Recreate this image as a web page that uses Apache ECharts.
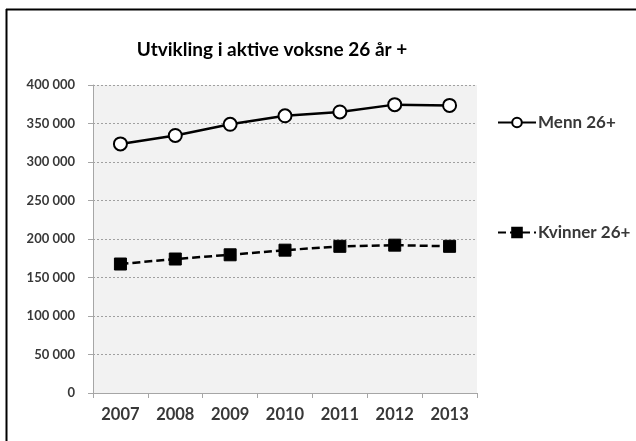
<!DOCTYPE html>
<html>
<head>
<meta charset="utf-8">
<script src="https://cdn.jsdelivr.net/npm/echarts@6/dist/echarts.min.js"></script>
<style>html,body{margin:0;padding:0;background:#fff}#c{width:636px;height:441px}</style>
</head>
<body>
<div id="c"></div>
<script>
const categories = ['2007','2008','2009','2010','2011','2012','2013'];
const menn = [323500, 334500, 349000, 360000, 365000, 374500, 373500];
const kvinner = [167500, 174000, 179500, 185500, 190500, 192000, 190500];
const yTicks = [0, 50000, 100000, 150000, 200000, 250000, 300000, 350000, 400000];
const titleText = 'Utvikling i aktive voksne 26 år +';
const FONT = 'Lato';

const chart = echarts.init(document.getElementById('c'), null, {renderer: 'canvas'});
chart.setOption({
  backgroundColor: '#fff',
  animation: false,
  title: {
    text: titleText, left: 267, top: 35, textAlign: 'center',
    textStyle: {fontFamily: FONT, fontWeight: 'bold', fontSize: 19, color: '#000'}
  },
  graphic: [
    {type: 'line', shape: {x1: 6, y1: 9.5, x2: 636, y2: 9.5}, style: {stroke: '#000', lineWidth: 2}},
    {type: 'line', shape: {x1: 6.5, y1: 9, x2: 6.5, y2: 441}, style: {stroke: '#000', lineWidth: 2}}
  ],
  legend: [
    {data: ['Menn 26+'], left: 492, top: 109, itemWidth: 38, itemHeight: 12, itemGap: 4,
     textStyle: {fontFamily: FONT, fontWeight: 'bold', fontSize: 17, color: '#383838', padding: [0,0,0,-3]}},
    {data: ['Kvinner 26+'], left: 492, top: 219, itemWidth: 38, itemHeight: 12, itemGap: 4,
     textStyle: {fontFamily: FONT, fontWeight: 'bold', fontSize: 17, color: '#383838', padding: [0,0,0,-3]}}
  ],
  grid: {left: 93, right: 159, top: 85, bottom: 48, show: true, backgroundColor: '#f2f2f2', borderWidth: 0},
  xAxis: {
    type: 'category', data: categories, boundaryGap: true,
    axisLine: {lineStyle: {color: '#a6a6a6', width: 1}},
    axisTick: {show: true, length: 5, interval: 0, lineStyle: {color: '#a6a6a6'}},
    axisLabel: {fontFamily: FONT, fontWeight: 'bold', fontSize: 16.5, color: '#383838', margin: 13, interval: 0},
    splitLine: {show: false}
  },
  yAxis: {
    type: 'value', min: 0, max: 400000, interval: 50000,
    axisLine: {show: true, lineStyle: {color: '#a6a6a6', width: 1}},
    axisTick: {show: true, length: 5, lineStyle: {color: '#a6a6a6'}},
    axisLabel: {fontFamily: FONT, fontWeight: 'bold', fontSize: 13, color: '#383838', margin: 18,
      formatter: v => yTicks.includes(v) ? String(v).replace(/\B(?=(\d{3})+(?!\d))/g, ' ') : ''},
    splitLine: {show: true, lineStyle: {color: '#a0a0a0', type: [2, 2], width: 1}}
  },
  series: [
    {name: 'Menn 26+', type: 'line', data: menn, symbol: 'circle', symbolSize: 13,
     lineStyle: {color: '#000', width: 2.5},
     itemStyle: {color: '#fff', borderColor: '#000', borderWidth: 2}},
    {name: 'Kvinner 26+', type: 'line', data: kvinner, symbol: 'rect', symbolSize: 12,
     lineStyle: {color: '#000', width: 2.5, type: [8, 4]},
     itemStyle: {color: '#000', borderColor: '#000', borderWidth: 1}}
  ]
});
</script>
</body>
</html>
